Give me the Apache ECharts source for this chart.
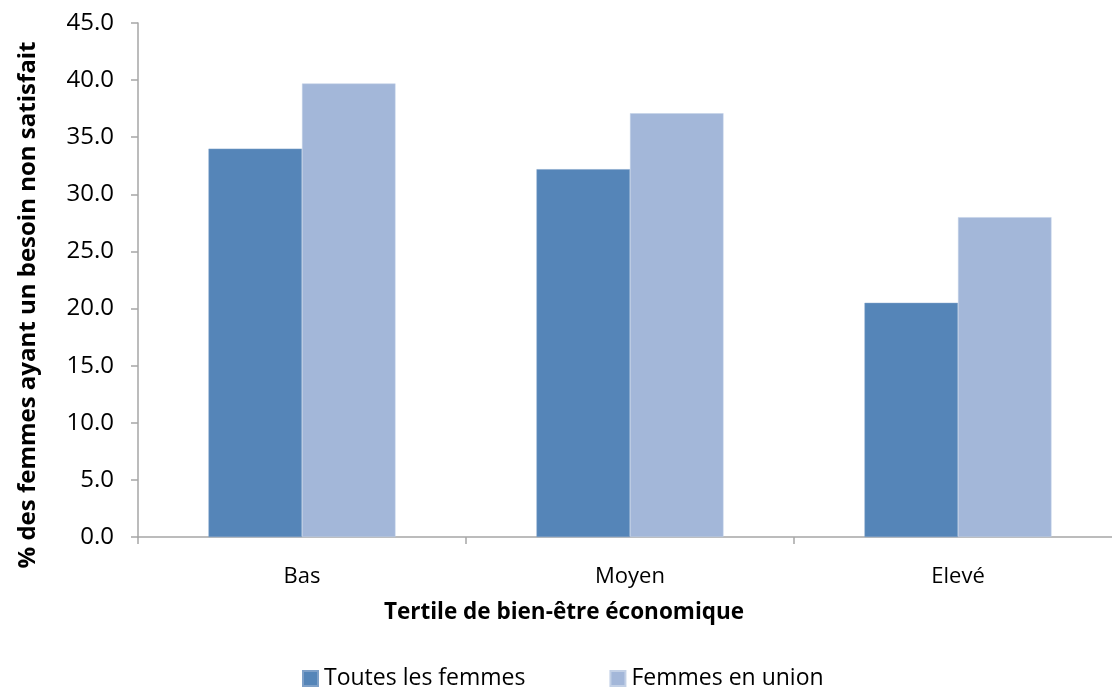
<!DOCTYPE html>
<html><head><meta charset="utf-8">
<script src="https://cdn.jsdelivr.net/npm/echarts@6/dist/echarts.min.js"></script>
<style>html,body{margin:0;padding:0;background:#fff}#c{width:1112px;height:688px}</style>
</head><body><div id="c"></div>
<script>
const categories = ['Bas', 'Moyen', 'Elevé'];
const toutesLesFemmes = [34.0, 32.2, 20.5];
const femmesEnUnion = [39.7, 37.1, 28.0];
const seriesNames = ['Toutes les femmes', 'Femmes en union'];
const yTitle = '% des femmes ayant un besoin non satisfait';
const xTitle = 'Tertile de bien-être économique';

const FONT = '"Open Sans", Lato, sans-serif';
const chart = echarts.init(document.getElementById('c'));
chart.setOption({
  animation: false,
  backgroundColor: '#fff',
  textStyle: {fontFamily: FONT},
  grid: {left: 138, right: -10, top: 23, bottom: 151, containLabel: false, outerBoundsMode: 'none'},
  legend: {
    left: 297, top: 662, itemWidth: 15, itemHeight: 15, itemGap: 84,
    icon: 'rect',
    textStyle: {fontSize: 23, color: '#000', fontFamily: FONT, padding: [0,0,0,1]},
    data: seriesNames
  },
  xAxis: {
    type: 'category', data: categories,
    axisLine: {lineStyle: {color: '#a6a6a6', width: 1.5}},
    axisTick: {show: true, length: 7, alignWithLabel: false, lineStyle: {color: '#a6a6a6', width: 1.5}},
    axisLabel: {fontSize: 22, color: '#000', margin: 29, fontFamily: FONT}
  },
  yAxis: {
    type: 'value', min: 0, max: 45, interval: 5,
    splitLine: {show: false},
    axisLine: {show: true, lineStyle: {color: '#a6a6a6', width: 1.5}},
    axisTick: {show: true, length: 7, lineStyle: {color: '#a6a6a6', width: 1.5}},
    axisLabel: {fontSize: 24, color: '#000', margin: 24, fontFamily: FONT,
      formatter: v => v.toFixed(1)}
  },
  graphic: [
    {type: 'text', x: 28, y: 305, rotation: Math.PI / 2,
      style: {text: yTitle, fontSize: 24, fontWeight: 'bold', fill: '#000', fontFamily: FONT,
        textAlign: 'center', textVerticalAlign: 'middle'}},
    {type: 'text', x: 564, y: 613,
      style: {text: xTitle, fontSize: 22.5, fontWeight: 'bold', fill: '#000', fontFamily: FONT,
        textAlign: 'center', textVerticalAlign: 'middle'}}
  ],
  series: [
    {name: seriesNames[0], type: 'bar', data: toutesLesFemmes, barGap: '0%', barCategoryGap: '43%',
      itemStyle: {color: '#5585b8', borderColor: '#7ea0c8', borderWidth: 0.5}},
    {name: seriesNames[1], type: 'bar', data: femmesEnUnion, barGap: '0%', barCategoryGap: '43%',
      itemStyle: {color: '#a3b7d9', borderColor: '#c2d0e6', borderWidth: 0.5}}
  ]
});
</script></body></html>
